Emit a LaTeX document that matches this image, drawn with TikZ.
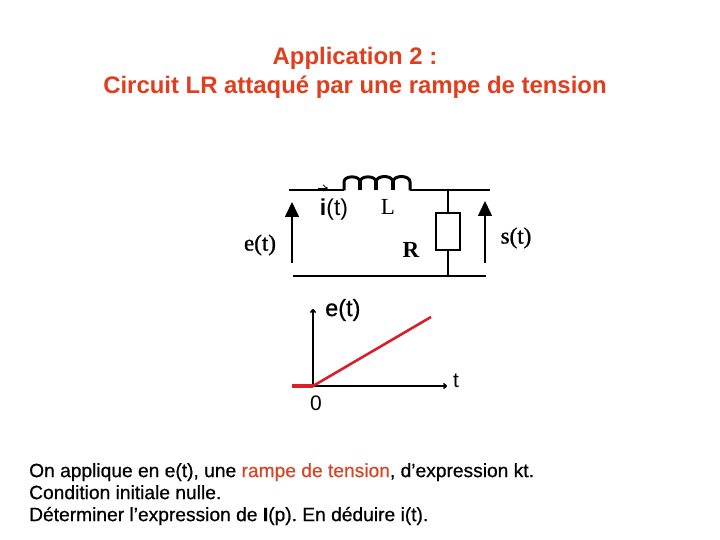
\documentclass[tikz,border=0pt]{standalone}
\usepackage{fontspec}
\setmainfont{Liberation Sans}
\newfontfamily\labelfont[FakeBold=1.2]{Liberation Serif}
\newfontfamily\plainserif{Liberation Serif}
\newfontfamily\semibold[FakeBold=0.6]{Liberation Sans}
\usetikzlibrary{positioning,arrows.meta}
\definecolor{rampred}{RGB}{216,32,40}
\definecolor{titlered}{RGB}{224,62,28}
\definecolor{textred}{RGB}{212,70,40}
\tikzset{
  wire/.style={line width=2pt},
  coil/.style={line width=3pt},
  leg/.style={line width=4.4pt},
  pin/.style={line width=1.5pt,-{Triangle[length=15pt,width=14pt]}},
  thinarrow/.style={line width=.8pt,-{To[length=5pt,width=7pt]}},
  axis/.style={line width=1.7pt,-{To[length=4pt,width=6pt]}},
  ramp/.style={rampred,line width=2.6pt},
  serif/.style={font=\labelfont\fontsize{23}{25}\selectfont,inner sep=0pt},
  sans/.style={font=\semibold\fontsize{23.5}{25}\selectfont,inner sep=0pt},
}
\begin{document}
\frenchspacing
\begin{tikzpicture}[x=1pt,y=-1pt]
  \useasboundingbox (0,0) rectangle (720,540);
  \node[font=\bfseries\fontsize{23.9}{29}\selectfont,align=center,titlered,inner sep=0pt] (title) at (355,73) {Application 2 :\hspace{6pt}\\Circuit LR attaqué par une rampe de tension};
  % circuit
  \coordinate (in_top) at (289,190.5);
  \coordinate (coil_a) at (344,190.5);
  \coordinate (coil_b) at (410,190.5);
  \coordinate (out_top) at (490,190.5);
  \coordinate (in_bot) at (293,276);
  \coordinate (out_bot) at (486,276);
  \coordinate (top_r) at (448,190.5);
  \coordinate (bot_r) at (448,276);
  \node[draw,line width=1.3pt,minimum width=24pt,minimum height=37pt,inner sep=0pt] (R_box) at (448,231.5) {};
  \draw[wire] (in_top) -- (coil_a);
  \draw[coil] (coil_a) -- (344,182) to[out=90,in=90,looseness=1.1] (360,182)
    to[out=90,in=90,looseness=1.1] (376,182)
    to[out=90,in=90,looseness=1.1] (393,182)
    to[out=90,in=90,looseness=1.1] (410,182) -- (coil_b);
  \draw[leg] (360,181) -- (360,190) (376,181) -- (376,190) (393,181) -- (393,190);
  \draw[wire] (coil_b) -- (out_top);
  \draw[wire] (in_bot) -- (out_bot);
  \draw[line width=1.3pt] (top_r) -- (R_box);
  \draw[line width=1.3pt] (R_box) -- (bot_r);
  \coordinate (e_foot) at (292,263);
  \coordinate (e_tip) at (292,202);
  \coordinate (s_foot) at (485,263);
  \coordinate (s_tip) at (485,201);
  \draw[pin] (e_foot) -- (e_tip);
  \draw[pin] (s_foot) -- (s_tip);
  \coordinate (i_foot) at (318,188);
  \coordinate (i_tip) at (328,188);
  \draw[thinarrow] (i_foot) -- (i_tip);
  \node[serif] (e_lab) at (260,245) {e(t)};
  \node[serif] (s_lab) at (516,238) {s(t)};
  \node[serif,font=\plainserif\bfseries\fontsize{23}{25}\selectfont] (R_lab) at (411,250) {R};
  \node[serif,font=\plainserif\fontsize{23}{25}\selectfont] (L_lab) at (388,207) {L};
  \node[sans,font=\fontsize{23}{25}\selectfont] (i_lab) at (334,210) {\textbf{i}(t)};
  % graph
  \coordinate (orig) at (313,386);
  \coordinate (y_end) at (313,309);
  \coordinate (x_end) at (447,386);
  \coordinate (neg_end) at (292,386);
  \coordinate (ramp_end) at (431,317);
  \draw[axis] (orig) -- (y_end);
  \draw[axis] (orig) -- (x_end);
  \draw[ramp,line width=4pt] (neg_end) -- (orig);
  \draw[ramp] (orig) -- (ramp_end);
  \node[sans,anchor=west] (et_lab) at (325,310) {e(t)};
  \node[sans,anchor=west,font=\fontsize{21}{23}\selectfont] (t_lab) at (453,381) {t};
  \node[sans,font=\fontsize{21}{23}\selectfont] (zero_lab) at (316,403) {0};
  % text
  \node[font=\semibold\fontsize{19.2}{22}\selectfont,align=left,anchor=north west,inner sep=0pt] (body) at (29,463)
    {On applique en e(t), une {\color{textred}rampe de tension}, d’expression kt.\\Condition initiale nulle.\\Déterminer l’expression de {\bfseries I}(p). En déduire i(t).};
\end{tikzpicture}
\end{document}
